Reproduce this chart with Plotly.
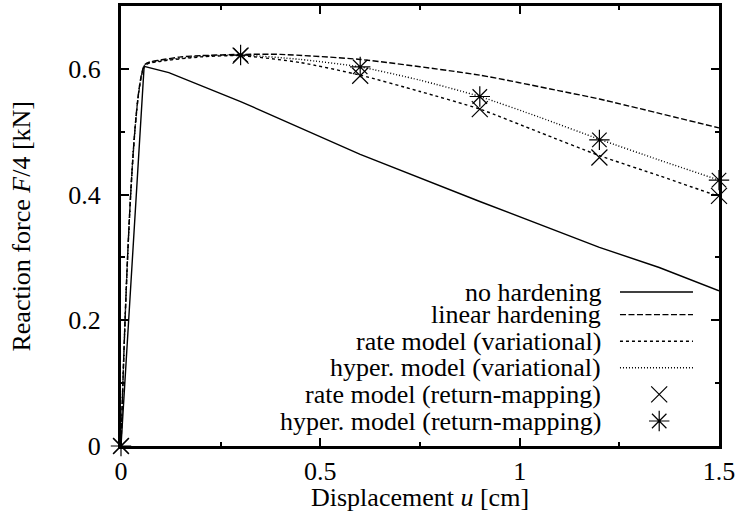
import plotly.graph_objects as go

# ---- data ----
u_none = [0, 0.058, 0.12, 0.3, 0.6, 0.9, 1.2, 1.35, 1.5]
f_none = [0, 0.604, 0.594, 0.548, 0.464, 0.389, 0.316, 0.284, 0.247]

u_lin = [0, 0.06, 0.1, 0.15, 0.2, 0.3, 0.4, 0.6, 0.9, 1.1, 1.2, 1.5]
f_lin = [0, 0.607, 0.614, 0.619, 0.621, 0.623, 0.623, 0.615, 0.590, 0.565, 0.552, 0.506]

u_var = [0, 0.06, 0.1, 0.2, 0.3, 0.45, 0.6, 0.75, 0.9, 1.05, 1.2, 1.35, 1.5]
f_rate_var = [0, 0.605, 0.612, 0.619, 0.621, 0.610, 0.590, 0.564, 0.536, 0.499, 0.462, 0.430, 0.397]
f_hyper_var = [0, 0.606, 0.613, 0.620, 0.622, 0.615, 0.603, 0.582, 0.556, 0.523, 0.488, 0.455, 0.423]

u_rm = [0, 0.3, 0.6, 0.9, 1.2, 1.5]
f_rate_rm = [0, 0.621, 0.589, 0.536, 0.459, 0.398]
f_hyper_rm = [0, 0.622, 0.603, 0.556, 0.487, 0.423]

x_tickvals = [0, 0.5, 1, 1.5]
x_ticktext = ["0", "0.5", "1", "1.5"]
y_tickvals = [0, 0.2, 0.4, 0.6]
y_ticktext = ["0", "0.2", "0.4", "0.6"]

x_title = "Displacement <i>u</i> [cm]"
y_title = "Reaction force <i>F</i>/4 [kN]"

legend_names = [
    "no hardening",
    "linear hardening",
    "rate model (variational)",
    "hyper. model (variational)",
    "rate model (return-mapping)",
    "hyper. model (return-mapping)",
]

FONT = "Liberation Serif"
FS = 26
FS_TEXT = 26
LW = 1.4
SM = 0.6

dash_lin = "6px,2.5px"
dash_rate = "3px,3px"
dash_hyper = "1px,2px"

fig = go.Figure()
fig.add_trace(go.Scatter(x=u_none, y=f_none, mode="lines",
                         line=dict(color="black", width=LW), showlegend=False))
fig.add_trace(go.Scatter(x=u_lin, y=f_lin, mode="lines",
                         line=dict(color="black", width=LW, dash=dash_lin, shape="spline", smoothing=SM),
                         showlegend=False))
fig.add_trace(go.Scatter(x=u_var, y=f_rate_var, mode="lines",
                         line=dict(color="black", width=LW, dash=dash_rate, shape="spline", smoothing=SM),
                         showlegend=False))
fig.add_trace(go.Scatter(x=u_var, y=f_hyper_var, mode="lines",
                         line=dict(color="black", width=LW, dash=dash_hyper, shape="spline", smoothing=SM),
                         showlegend=False))
fig.add_trace(go.Scatter(x=u_rm, y=f_rate_rm, mode="markers", cliponaxis=False,
                         marker=dict(symbol="x-thin", size=16, color="black",
                                     line=dict(color="black", width=1.2)),
                         showlegend=False))
fig.add_trace(go.Scatter(x=u_rm, y=f_hyper_rm, mode="markers", cliponaxis=False,
                         marker=dict(symbol="asterisk", size=17, color="black",
                                     line=dict(color="black", width=1.2)),
                         showlegend=False))

# ---- hand-made gnuplot-style legend (text right, sample to the right) ----
row_y = [0.350, 0.2986, 0.2382, 0.1777, 0.1173, 0.0568]
text_x = 0.806
s0, s1, sm = 0.8344, 0.9565, 0.90
styles = [None, dash_lin, dash_rate, dash_hyper]
for i, name in enumerate(legend_names):
    fig.add_annotation(x=text_x, y=row_y[i], xref="paper", yref="paper",
                       text=name, showarrow=False, xanchor="right", yanchor="middle",
                       font=dict(family=FONT, size=FS_TEXT, color="black"))
for i in range(4):
    fig.add_shape(type="line", xref="paper", yref="paper",
                  x0=s0, x1=s1, y0=row_y[i], y1=row_y[i],
                  line=dict(color="black", width=LW, dash=styles[i] or "solid"))
fig.add_trace(go.Scatter(x=[sm], y=[row_y[4]], xaxis="x2", yaxis="y2", mode="markers",
                         marker=dict(symbol="x-thin", size=16, color="black",
                                     line=dict(color="black", width=1.2)),
                         showlegend=False, hoverinfo="skip"))
fig.add_trace(go.Scatter(x=[sm], y=[row_y[5]], xaxis="x2", yaxis="y2", mode="markers",
                         marker=dict(symbol="asterisk", size=17, color="black",
                                     line=dict(color="black", width=1.2)),
                         showlegend=False, hoverinfo="skip"))

# axis titles as annotations (exact placement)
fig.add_annotation(x=0.5, y=-0.118, xref="paper", yref="paper", text=x_title,
                   showarrow=False, xanchor="center", yanchor="middle",
                   font=dict(family=FONT, size=FS_TEXT, color="black"))
fig.add_annotation(x=-0.168, y=0.5, xref="paper", yref="paper", text=y_title,
                   showarrow=False, xanchor="center", yanchor="middle", textangle=-90,
                   font=dict(family=FONT, size=FS_TEXT, color="black"))

axis_common = dict(showline=True, linecolor="black", linewidth=3, mirror="ticks",
                   ticks="inside", ticklen=8, tickwidth=2, tickcolor="black",
                   showgrid=False, zeroline=False, automargin=False,
                   tickfont=dict(family=FONT, size=FS, color="black"))

fig.update_layout(
    width=742, height=513,
    margin=dict(l=121, r=23, t=6, b=67),
    paper_bgcolor="white", plot_bgcolor="white",
    font=dict(family=FONT, size=FS, color="black"),
    showlegend=False,
    xaxis=dict(range=[0, 1.5], tickvals=x_tickvals, ticktext=x_ticktext,
               minor=dict(ticks="inside", ticklen=4, tickwidth=2, dtick=0.25, tickcolor="black"),
               ticklabelstandoff=0, **axis_common),
    yaxis=dict(range=[0, 0.7], tickvals=y_tickvals, ticktext=y_ticktext,
               minor=dict(ticks="inside", ticklen=4, tickwidth=2, dtick=0.1, tickcolor="black"),
               ticklabelstandoff=12, **axis_common),
    xaxis2=dict(range=[0, 1], overlaying="x", visible=False, fixedrange=True),
    yaxis2=dict(range=[0, 1], overlaying="y", visible=False, fixedrange=True),
)

fig.write_html("out.html", config={"displayModeBar": False},
               post_script="document.body.style.margin='0';document.body.style.overflow='hidden';")
